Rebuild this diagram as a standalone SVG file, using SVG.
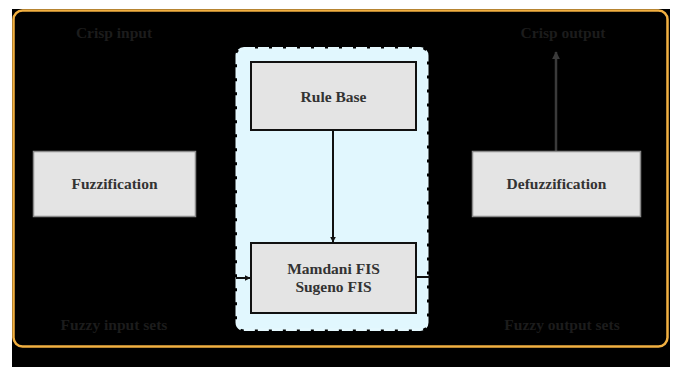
<svg xmlns="http://www.w3.org/2000/svg" width="677" height="367" viewBox="0 0 677 367">
<style>
.lbl{font-family:"Liberation Serif","Times New Roman",serif;font-weight:bold;font-size:15.5px;text-anchor:middle;fill:#333}
.dim{font-family:"Liberation Serif","Times New Roman",serif;font-weight:bold;font-size:15.5px;text-anchor:middle;fill:#1c1c1c}
.proc{fill:#e4e4e4;stroke:#8a8a8a;stroke-width:1.5}
.core{fill:#e4e4e4;stroke:#111;stroke-width:2}
</style>
<defs>
<marker id="ah" viewBox="0 0 10 10" refX="9" refY="5" markerWidth="6" markerHeight="6" markerUnits="userSpaceOnUse" orient="auto"><path d="M0,0 L10,5 L0,10 z" fill="#111"/></marker>
<marker id="ahg" viewBox="0 0 10 10" refX="9" refY="5" markerWidth="8" markerHeight="8" markerUnits="userSpaceOnUse" orient="auto"><path d="M0,0 L10,5 L0,10 z" fill="#3a3a3a"/></marker>
</defs>
<rect x="0" y="0" width="677" height="367" fill="#ffffff"/>
<rect x="12" y="9" width="658" height="358" fill="#000000"/>
<rect id="frame" x="13.5" y="10.5" width="654" height="336" rx="9" fill="#000" stroke="#f2b041" stroke-width="2.5"/>
<g id="container">
<rect x="237" y="48.5" width="190" height="281" rx="7" fill="#e1f7fe" stroke="#e4f8fe" stroke-width="3" stroke-dasharray="11 3"/>
</g>
<g id="labels">
<text class="dim" x="114" y="38">Crisp input</text>
<text class="dim" x="563" y="38">Crisp output</text>
<text class="dim" x="114" y="330">Fuzzy input sets</text>
<text class="dim" x="562" y="330">Fuzzy output sets</text>
</g>
<g id="connectors">
<line x1="333" y1="131" x2="333" y2="242" stroke="#111" stroke-width="2" marker-end="url(#ah)"/>
<line x1="236" y1="278" x2="250" y2="278" stroke="#111" stroke-width="2" marker-end="url(#ah)"/>
<line x1="417" y1="277" x2="430" y2="277" stroke="#111" stroke-width="2"/>
<line x1="556" y1="151" x2="556" y2="52" stroke="#3a3a3a" stroke-width="2.5" marker-end="url(#ahg)"/>
</g>
<g id="rulebase">
<rect class="core" x="251" y="62" width="165" height="68"/>
<text class="lbl" x="333.5" y="102">Rule Base</text>
</g>
<g id="fis">
<rect class="core" x="251" y="243" width="165" height="70"/>
<text class="lbl" x="333.5" y="274">Mamdani FIS</text>
<text class="lbl" x="333.5" y="292">Sugeno FIS</text>
</g>
<g id="fuzzification">
<rect class="proc" x="33.5" y="151.5" width="162" height="65"/>
<text class="lbl" x="114.5" y="189">Fuzzification</text>
</g>
<g id="defuzzification">
<rect class="proc" x="472.5" y="151.5" width="168" height="65"/>
<text class="lbl" x="556.5" y="189">Defuzzification</text>
</g>
</svg>
